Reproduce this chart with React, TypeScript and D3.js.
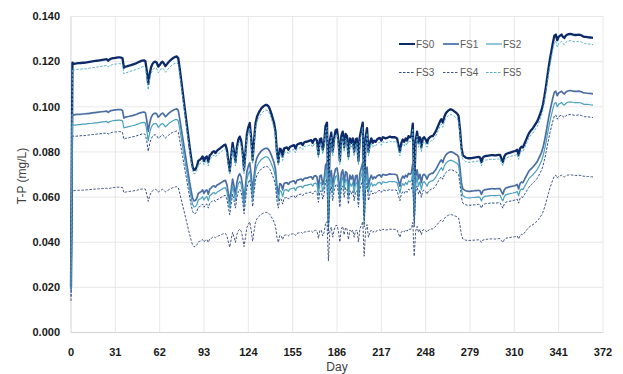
import React from 'react';
import * as d3 from 'd3';

// T-P concentration (µg/L = mg/L x 1000), one value per day, day 0..365
const FS0 = [
  20, 119.5, 119.0, 119.1, 119.2, 119.3, 119.3, 119.4, 119.5, 119.5,
  119.6, 119.7, 119.8, 119.9, 120.0, 120.1, 120.2, 120.3, 120.4, 120.5,
  120.6, 120.7, 120.8, 120.9, 121.0, 121.1, 120.4, 121.0, 121.3, 121.5,
  121.6, 121.7, 121.8, 121.9, 121.9, 121.8, 121.5, 117.3, 117.8, 117.9,
  118.1, 118.3, 118.5, 118.7, 118.9, 119.1, 119.4, 119.7, 120.0, 120.3,
  120.5, 120.6, 120.2, 116.0, 110.0, 114.5, 117.5, 119.0, 119.8, 120.0,
  119.5, 117.8, 118.5, 119.5, 120.0, 119.2, 118.0, 118.8, 119.6, 120.3,
  120.9, 121.4, 121.8, 122.1, 122.3, 121.5, 117.0, 112.0, 107.0, 102.0,
  97.0, 92.0, 87.0, 82.0, 77.5, 73.5, 72.0, 72.2, 73.5, 76.0,
  76.5, 77.0, 78.0, 76.0, 77.5, 78.0, 75.5, 78.5, 79.0, 80.0,
  80.3, 79.5, 80.5, 81.0, 81.5, 82.0, 82.5, 83.0, 83.2, 81.0,
  76.0, 71.5, 78.0, 84.0, 80.0, 75.5, 82.0, 85.5, 86.8, 85.0,
  80.0, 72.0, 80.0, 88.0, 91.0, 92.8, 86.0, 76.5, 85.0, 92.5,
  95.5, 97.0, 98.2, 99.2, 99.9, 100.4, 100.8, 100.8, 100.3, 99.0,
  97.2, 95.0, 92.8, 89.0, 80.0, 75.5, 81.5, 81.0, 78.0, 81.5,
  81.8, 82.0, 81.0, 82.2, 82.5, 82.8, 83.0, 81.5, 83.2, 83.5,
  83.8, 84.0, 83.0, 84.2, 84.5, 84.5, 84.8, 85.0, 85.2, 84.0,
  85.5, 85.8, 85.0, 79.0, 85.5, 86.0, 81.0, 84.0, 91.5, 93.0,
  60.0, 85.0, 88.5, 80.0, 86.0, 89.5, 90.0, 85.0, 76.0, 87.0,
  89.0, 82.0, 88.0, 87.0, 78.0, 86.0, 84.0, 86.0, 80.0, 85.5,
  86.0, 76.0, 87.0, 90.0, 93.0, 64.0, 86.0, 90.5, 80.0, 84.0,
  86.0, 84.0, 85.0, 84.5, 85.5, 86.0, 86.2, 85.0, 86.5, 86.3,
  86.0, 86.2, 86.5, 86.8, 86.5, 86.5, 86.6, 86.4, 86.0, 83.0,
  80.0, 84.0, 85.5, 84.5, 86.0, 85.0, 87.0, 86.5, 87.0, 92.5,
  64.0, 85.0, 89.0, 84.0, 86.5, 82.0, 86.0, 86.5, 85.5, 84.0,
  86.0, 86.5, 87.0, 87.0, 88.0, 89.0, 90.5, 92.0, 93.5, 94.5,
  93.0, 95.5, 97.0, 97.8, 98.4, 98.8, 98.8, 98.5, 98.0, 97.5,
  97.0, 96.0, 90.0, 82.0, 78.5, 78.0, 77.5, 77.3, 77.2, 77.2,
  77.3, 77.4, 77.5, 77.6, 77.7, 77.8, 77.5, 75.5, 77.5, 78.0,
  78.2, 78.3, 78.4, 78.5, 78.6, 78.6, 78.5, 78.5, 78.6, 78.7,
  78.7, 77.0, 75.5, 78.0, 79.0, 79.3, 79.5, 79.7, 79.9, 80.1,
  80.3, 80.5, 81.0, 78.5, 81.5, 82.3, 82.0, 83.5, 85.0, 86.5,
  88.0, 89.0, 89.8, 90.5, 91.5, 92.5, 93.5, 95.0, 96.8, 98.5,
  101.0, 104.5, 108.5, 113.0, 117.5, 121.5, 125.0, 128.5, 131.5, 132.0,
  129.5, 131.0, 131.5, 132.0, 131.0, 130.5, 131.5, 132.0, 132.2, 132.3,
  132.2, 132.0, 131.8, 131.8, 131.9, 132.0, 131.9, 131.6, 131.2, 131.0,
  131.0, 130.9, 130.8, 130.7, 130.6, 130.5,
];

const FS1 = [
  19, 96.8, 96.4, 96.5, 96.6, 96.6, 96.6, 96.7, 96.8, 96.8,
  96.9, 97.0, 97.0, 97.1, 97.2, 97.3, 97.4, 97.4, 97.5, 97.6,
  97.7, 97.8, 97.8, 97.9, 98.0, 98.1, 97.5, 98.0, 98.3, 98.4,
  98.5, 98.6, 98.7, 98.7, 98.7, 98.7, 98.4, 95.0, 95.4, 95.5,
  95.7, 95.8, 96.0, 96.1, 96.3, 96.5, 96.7, 97.0, 97.2, 97.4,
  97.6, 97.7, 97.4, 94.0, 89.1, 92.7, 95.2, 96.4, 97.0, 97.2,
  96.8, 95.4, 96.0, 96.8, 97.2, 96.6, 95.6, 96.2, 96.9, 97.4,
  97.9, 98.3, 98.7, 98.9, 99.1, 98.4, 94.8, 90.7, 86.7, 82.6,
  78.6, 74.5, 70.5, 66.4, 62.8, 59.5, 58.3, 58.5, 59.5, 61.6,
  62.0, 62.4, 63.2, 61.6, 62.8, 63.2, 61.2, 63.6, 64.0, 64.8,
  65.0, 64.4, 65.2, 65.6, 66.0, 66.4, 66.8, 67.2, 67.4, 65.6,
  61.6, 57.9, 63.2, 68.0, 64.8, 61.2, 66.4, 69.3, 70.3, 68.9,
  64.8, 58.3, 64.8, 71.3, 73.7, 75.2, 69.7, 62.0, 68.9, 74.9,
  77.4, 78.6, 79.5, 80.4, 80.9, 81.3, 81.6, 81.6, 81.2, 80.2,
  78.7, 77.0, 75.2, 72.1, 64.8, 61.2, 66.0, 65.6, 63.2, 66.0,
  66.3, 66.4, 65.6, 66.6, 66.8, 67.1, 67.2, 66.0, 67.4, 67.6,
  67.9, 68.0, 67.2, 68.2, 68.4, 68.4, 68.7, 68.9, 69.0, 68.0,
  69.3, 69.5, 68.9, 64.0, 69.3, 69.7, 65.6, 68.0, 74.1, 75.3,
  48.6, 68.9, 71.7, 64.8, 69.7, 72.5, 72.9, 68.9, 61.6, 70.5,
  72.1, 66.4, 71.3, 70.5, 63.2, 69.7, 68.0, 69.7, 64.8, 69.3,
  69.7, 61.6, 70.5, 72.9, 75.3, 51.8, 69.7, 73.3, 64.8, 68.0,
  69.7, 68.0, 68.9, 68.4, 69.3, 69.7, 69.8, 68.9, 70.1, 69.9,
  69.7, 69.8, 70.1, 70.3, 70.1, 70.1, 70.1, 70.0, 69.7, 67.2,
  64.8, 68.0, 69.3, 68.4, 69.7, 68.9, 70.5, 70.1, 70.5, 74.9,
  51.8, 68.9, 72.1, 68.0, 70.1, 66.4, 69.7, 70.1, 69.3, 68.0,
  69.7, 70.1, 70.5, 70.5, 71.3, 72.1, 73.3, 74.5, 75.7, 76.5,
  75.3, 77.4, 78.6, 79.2, 79.7, 80.0, 80.0, 79.8, 79.4, 79.0,
  78.6, 77.8, 72.9, 66.4, 63.6, 63.2, 62.8, 62.6, 62.5, 62.5,
  62.6, 62.7, 62.8, 62.9, 62.9, 63.0, 62.8, 61.2, 62.8, 63.2,
  63.3, 63.4, 63.5, 63.6, 63.7, 63.7, 63.6, 63.6, 63.7, 63.7,
  63.7, 62.4, 61.2, 63.2, 64.0, 64.2, 64.4, 64.6, 64.7, 64.9,
  65.0, 65.2, 65.6, 63.6, 66.0, 66.7, 66.4, 67.6, 68.9, 70.1,
  71.3, 72.1, 72.7, 73.3, 74.1, 74.9, 75.7, 77.0, 78.4, 79.8,
  81.8, 84.6, 87.9, 91.5, 95.2, 98.4, 101.3, 104.1, 106.5, 106.9,
  104.9, 106.1, 106.5, 106.9, 106.1, 105.7, 106.5, 106.9, 107.1, 107.2,
  107.1, 106.9, 106.8, 106.8, 106.8, 106.9, 106.8, 106.6, 106.3, 106.1,
  106.1, 106.0, 105.9, 105.9, 105.8, 105.7,
];

const FS2 = [
  18.5, 92.3, 91.9, 91.9, 92.0, 92.1, 92.1, 92.2, 92.3, 92.3,
  92.3, 92.4, 92.5, 92.6, 92.6, 92.7, 92.8, 92.9, 92.9, 93.0,
  93.1, 93.2, 93.3, 93.3, 93.4, 93.5, 92.9, 93.4, 93.6, 93.8,
  93.9, 94.0, 94.0, 94.1, 94.1, 94.0, 93.8, 90.6, 90.9, 91.0,
  91.2, 91.3, 91.5, 91.6, 91.8, 91.9, 92.2, 92.4, 92.6, 92.9,
  93.0, 93.1, 92.8, 89.6, 84.9, 88.4, 90.7, 91.9, 92.5, 92.6,
  92.3, 90.9, 91.5, 92.3, 92.6, 92.0, 91.1, 91.7, 92.3, 92.9,
  93.3, 93.7, 94.0, 94.3, 94.4, 93.8, 90.3, 86.5, 82.6, 78.7,
  74.9, 71.0, 67.2, 63.3, 59.8, 56.7, 55.6, 55.7, 56.7, 58.7,
  59.1, 59.4, 60.2, 58.7, 59.8, 60.2, 58.3, 60.6, 61.0, 61.8,
  62.0, 61.4, 62.1, 62.5, 62.9, 63.3, 63.7, 64.1, 64.2, 62.5,
  58.7, 55.2, 60.2, 64.8, 61.8, 58.3, 63.3, 66.0, 67.0, 65.6,
  61.8, 55.6, 61.8, 67.9, 70.3, 71.6, 66.4, 59.1, 65.6, 71.4,
  73.7, 74.9, 75.8, 76.6, 77.1, 77.5, 77.8, 77.8, 77.4, 76.4,
  75.0, 73.3, 71.6, 68.7, 61.8, 58.3, 62.9, 62.5, 60.2, 62.9,
  63.2, 63.3, 62.5, 63.5, 63.7, 63.9, 64.1, 62.9, 64.2, 64.5,
  64.7, 64.8, 64.1, 65.0, 65.2, 65.2, 65.5, 65.6, 65.8, 64.8,
  66.0, 66.2, 65.6, 61.0, 66.0, 66.4, 62.5, 64.8, 70.6, 71.8,
  46.3, 65.6, 68.3, 61.8, 66.4, 69.1, 69.5, 65.6, 58.7, 67.2,
  68.7, 63.3, 67.9, 67.2, 60.2, 66.4, 64.8, 66.4, 61.8, 66.0,
  66.4, 58.7, 67.2, 69.5, 71.8, 49.4, 66.4, 69.9, 61.8, 64.8,
  66.4, 64.8, 65.6, 65.2, 66.0, 66.4, 66.5, 65.6, 66.8, 66.6,
  66.4, 66.5, 66.8, 67.0, 66.8, 66.8, 66.9, 66.7, 66.4, 64.1,
  61.8, 64.8, 66.0, 65.2, 66.4, 65.6, 67.2, 66.8, 67.2, 71.4,
  49.4, 65.6, 68.7, 64.8, 66.8, 63.3, 66.4, 66.8, 66.0, 64.8,
  66.4, 66.8, 67.2, 67.2, 67.9, 68.7, 69.9, 71.0, 72.2, 73.0,
  71.8, 73.7, 74.9, 75.5, 76.0, 76.3, 76.3, 76.0, 75.7, 75.3,
  74.9, 74.1, 69.5, 63.3, 60.6, 60.2, 59.8, 59.7, 59.6, 59.6,
  59.7, 59.8, 59.8, 59.9, 60.0, 60.1, 59.8, 58.3, 59.8, 60.2,
  60.4, 60.4, 60.5, 60.6, 60.7, 60.7, 60.6, 60.6, 60.7, 60.8,
  60.8, 59.4, 58.3, 60.2, 61.0, 61.2, 61.4, 61.5, 61.7, 61.8,
  62.0, 62.1, 62.5, 60.6, 62.9, 63.5, 63.3, 64.5, 65.6, 66.8,
  67.9, 68.7, 69.3, 69.9, 70.6, 71.4, 72.2, 73.3, 74.7, 76.0,
  78.0, 80.7, 83.8, 87.2, 90.7, 93.8, 96.5, 99.2, 101.5, 101.9,
  100.0, 101.1, 101.5, 101.9, 101.1, 100.7, 101.5, 101.9, 102.1, 102.1,
  102.1, 101.9, 101.8, 101.8, 101.8, 101.9, 101.8, 101.6, 101.3, 101.1,
  101.1, 101.1, 101.0, 100.9, 100.8, 100.7,
];

const FS3 = [
  16, 87.2, 86.9, 86.9, 87.0, 87.1, 87.1, 87.2, 87.2, 87.2,
  87.3, 87.4, 87.5, 87.5, 87.6, 87.7, 87.7, 87.8, 87.9, 88.0,
  88.0, 88.1, 88.2, 88.3, 88.3, 88.4, 87.9, 88.3, 88.5, 88.7,
  88.8, 88.8, 88.9, 89.0, 89.0, 88.9, 88.7, 85.6, 86.0, 86.1,
  86.2, 86.4, 86.5, 86.7, 86.8, 86.9, 87.2, 87.4, 87.6, 87.8,
  88.0, 88.0, 87.7, 84.7, 80.3, 83.6, 85.8, 86.9, 87.5, 87.6,
  87.2, 86.0, 86.5, 87.2, 87.6, 87.0, 86.1, 86.7, 87.3, 87.8,
  88.3, 88.6, 88.9, 89.1, 89.3, 88.7, 85.4, 81.8, 78.1, 74.5,
  70.8, 67.2, 63.5, 59.9, 56.6, 53.7, 52.6, 52.7, 53.7, 55.5,
  55.8, 56.2, 56.9, 55.5, 56.6, 56.9, 55.1, 57.3, 57.7, 58.4,
  58.6, 58.0, 58.8, 59.1, 59.5, 59.9, 60.2, 60.6, 60.7, 59.1,
  55.5, 52.2, 56.9, 61.3, 58.4, 55.1, 59.9, 62.4, 63.4, 62.1,
  58.4, 52.6, 58.4, 64.2, 66.4, 67.7, 62.8, 55.8, 62.1, 67.5,
  69.7, 70.8, 71.7, 72.4, 72.9, 73.3, 73.6, 73.6, 73.2, 72.3,
  71.0, 69.4, 67.7, 65.0, 58.4, 55.1, 59.5, 59.1, 56.9, 59.5,
  59.7, 59.9, 59.1, 60.0, 60.2, 60.4, 60.6, 59.5, 60.7, 61.0,
  61.2, 61.3, 60.6, 61.5, 61.7, 61.7, 61.9, 62.1, 62.2, 61.3,
  62.4, 62.6, 62.1, 57.7, 62.4, 62.8, 59.1, 61.3, 66.8, 67.9,
  43.8, 62.1, 64.6, 58.4, 62.8, 65.3, 65.7, 62.1, 55.5, 63.5,
  65.0, 59.9, 64.2, 63.5, 56.9, 62.8, 61.3, 62.8, 58.4, 62.4,
  62.8, 55.5, 63.5, 65.7, 67.9, 46.7, 62.8, 66.1, 58.4, 61.3,
  62.8, 61.3, 62.1, 61.7, 62.4, 62.8, 62.9, 62.1, 63.1, 63.0,
  62.8, 62.9, 63.1, 63.4, 63.1, 63.1, 63.2, 63.1, 62.8, 60.6,
  58.4, 61.3, 62.4, 61.7, 62.8, 62.1, 63.5, 63.1, 63.5, 67.5,
  46.7, 62.1, 65.0, 61.3, 63.1, 59.9, 62.8, 63.1, 62.4, 61.3,
  62.8, 63.1, 63.5, 63.5, 64.2, 65.0, 66.1, 67.2, 68.3, 69.0,
  67.9, 69.7, 70.8, 71.4, 71.8, 72.1, 72.1, 71.9, 71.5, 71.2,
  70.8, 70.1, 65.7, 59.9, 57.3, 56.9, 56.6, 56.4, 56.4, 56.4,
  56.4, 56.5, 56.6, 56.6, 56.7, 56.8, 56.6, 55.1, 56.6, 56.9,
  57.1, 57.2, 57.2, 57.3, 57.4, 57.4, 57.3, 57.3, 57.4, 57.5,
  57.5, 56.2, 55.1, 56.9, 57.7, 57.9, 58.0, 58.2, 58.3, 58.5,
  58.6, 58.8, 59.1, 57.3, 59.5, 60.1, 59.9, 61.0, 62.1, 63.1,
  64.2, 65.0, 65.6, 66.1, 66.8, 67.5, 68.3, 69.4, 70.7, 71.9,
  73.7, 76.3, 79.2, 82.5, 85.8, 88.7, 91.3, 93.8, 96.0, 96.4,
  94.5, 95.6, 96.0, 96.4, 95.6, 95.3, 96.0, 96.4, 96.5, 96.6,
  96.5, 96.4, 96.2, 96.2, 96.3, 96.4, 96.3, 96.1, 95.8, 95.6,
  95.6, 95.6, 95.5, 95.4, 95.3, 95.3,
];

const FS4 = [
  14, 63.1, 62.8, 62.9, 62.9, 63.0, 63.0, 63.0, 63.1, 63.1,
  63.1, 63.2, 63.3, 63.3, 63.4, 63.4, 63.5, 63.5, 63.6, 63.6,
  63.7, 63.7, 63.8, 63.8, 63.9, 63.9, 63.6, 63.9, 64.0, 64.2,
  64.2, 64.3, 64.3, 64.4, 64.4, 64.3, 64.2, 61.9, 62.2, 62.3,
  62.4, 62.5, 62.6, 62.7, 62.8, 62.9, 63.0, 63.2, 63.4, 63.5,
  63.6, 63.7, 63.5, 61.2, 58.1, 60.5, 62.0, 62.8, 63.3, 63.4,
  63.1, 62.2, 62.6, 63.1, 63.4, 62.9, 62.3, 62.7, 63.1, 63.5,
  63.8, 64.1, 64.3, 64.5, 64.6, 64.2, 61.8, 59.1, 56.5, 53.9,
  51.2, 48.6, 45.9, 43.3, 40.9, 38.8, 38.0, 38.1, 38.8, 40.1,
  40.4, 40.7, 41.2, 40.1, 40.9, 41.2, 39.9, 41.4, 41.7, 42.2,
  42.4, 42.0, 42.5, 42.8, 43.0, 43.3, 43.6, 43.8, 43.9, 42.8,
  40.1, 37.8, 41.2, 44.4, 42.2, 39.9, 43.3, 45.1, 45.8, 44.9,
  42.2, 38.0, 42.2, 46.5, 48.0, 49.0, 45.4, 40.4, 44.9, 48.8,
  50.4, 51.2, 51.8, 52.4, 52.7, 53.0, 53.2, 53.2, 53.0, 52.3,
  51.3, 50.2, 49.0, 47.0, 42.2, 39.9, 43.0, 42.8, 41.2, 43.0,
  43.2, 43.3, 42.8, 43.4, 43.6, 43.7, 43.8, 43.0, 43.9, 44.1,
  44.2, 44.4, 43.8, 44.5, 44.6, 44.6, 44.8, 44.9, 45.0, 44.4,
  45.1, 45.3, 44.9, 41.7, 45.1, 45.4, 42.8, 44.4, 48.3, 49.1,
  31.7, 44.9, 46.7, 42.2, 45.4, 47.3, 47.5, 44.9, 40.1, 45.9,
  47.0, 43.3, 46.5, 45.9, 41.2, 45.4, 44.4, 45.4, 42.2, 45.1,
  45.4, 40.1, 45.9, 47.5, 49.1, 33.8, 45.4, 47.8, 42.2, 44.4,
  45.4, 44.4, 44.9, 44.6, 45.1, 45.4, 45.5, 44.9, 45.7, 45.6,
  45.4, 45.5, 45.7, 45.8, 45.7, 45.7, 45.7, 45.6, 45.4, 43.8,
  42.2, 44.4, 45.1, 44.6, 45.4, 44.9, 45.9, 45.7, 45.9, 48.8,
  33.8, 44.9, 47.0, 44.4, 45.7, 43.3, 45.4, 45.7, 45.1, 44.4,
  45.4, 45.7, 45.9, 45.9, 46.5, 47.0, 47.8, 48.6, 49.4, 49.9,
  49.1, 50.4, 51.2, 51.6, 52.0, 52.2, 52.2, 52.0, 51.7, 51.5,
  51.2, 50.7, 47.5, 43.3, 41.4, 41.2, 40.9, 40.8, 40.8, 40.8,
  40.8, 40.9, 40.9, 41.0, 41.0, 41.1, 40.9, 39.9, 40.9, 41.2,
  41.3, 41.3, 41.4, 41.4, 41.5, 41.5, 41.4, 41.4, 41.5, 41.6,
  41.6, 40.7, 39.9, 41.2, 41.7, 41.9, 42.0, 42.1, 42.2, 42.3,
  42.4, 42.5, 42.8, 41.4, 43.0, 43.5, 43.3, 44.1, 44.9, 45.7,
  46.5, 47.0, 47.4, 47.8, 48.3, 48.8, 49.4, 50.2, 51.1, 52.0,
  53.3, 55.2, 57.3, 59.7, 62.0, 64.2, 66.0, 67.8, 69.4, 69.7,
  68.4, 69.2, 69.4, 69.7, 69.2, 68.9, 69.4, 69.7, 69.8, 69.9,
  69.8, 69.7, 69.6, 69.6, 69.6, 69.7, 69.6, 69.5, 69.3, 69.2,
  69.2, 69.1, 69.1, 69.0, 69.0, 68.9,
];

const FS5 = [
  19.5, 116.8, 116.3, 116.4, 116.5, 116.6, 116.6, 116.7, 116.8, 116.8,
  116.8, 116.9, 117.0, 117.1, 117.2, 117.3, 117.4, 117.5, 117.6, 117.7,
  117.8, 117.9, 118.0, 118.1, 118.2, 118.3, 117.6, 118.2, 118.5, 118.7,
  118.8, 118.9, 119.0, 119.1, 119.1, 119.0, 118.7, 114.6, 115.1, 115.2,
  115.4, 115.6, 115.8, 116.0, 116.2, 116.4, 116.7, 116.9, 117.2, 117.5,
  117.7, 117.8, 117.4, 113.3, 107.5, 111.9, 114.8, 116.3, 117.0, 117.2,
  116.8, 115.1, 115.8, 116.8, 117.2, 116.5, 115.3, 116.1, 116.8, 117.5,
  118.1, 118.6, 119.0, 119.3, 119.5, 118.7, 114.3, 109.4, 104.5, 99.7,
  94.8, 89.9, 85.0, 80.1, 75.7, 71.8, 70.3, 70.5, 71.8, 74.3,
  74.7, 75.2, 76.2, 74.3, 75.7, 76.2, 73.8, 76.7, 77.2, 78.2,
  78.5, 77.7, 78.6, 79.1, 79.6, 80.1, 80.6, 81.1, 81.3, 79.1,
  74.3, 69.9, 76.2, 82.1, 78.2, 73.8, 80.1, 83.5, 84.8, 83.0,
  78.2, 70.3, 78.2, 86.0, 88.9, 90.7, 84.0, 74.7, 83.0, 90.4,
  93.3, 94.8, 95.9, 96.9, 97.6, 98.1, 98.5, 98.5, 98.0, 96.7,
  95.0, 92.8, 90.7, 87.0, 78.2, 73.8, 79.6, 79.1, 76.2, 79.6,
  79.9, 80.1, 79.1, 80.3, 80.6, 80.9, 81.1, 79.6, 81.3, 81.6,
  81.9, 82.1, 81.1, 82.3, 82.6, 82.6, 82.8, 83.0, 83.2, 82.1,
  83.5, 83.8, 83.0, 77.2, 83.5, 84.0, 79.1, 82.1, 89.4, 90.9,
  58.6, 83.0, 86.5, 78.2, 84.0, 87.4, 87.9, 83.0, 74.3, 85.0,
  87.0, 80.1, 86.0, 85.0, 76.2, 84.0, 82.1, 84.0, 78.2, 83.5,
  84.0, 74.3, 85.0, 87.9, 90.9, 62.5, 84.0, 88.4, 78.2, 82.1,
  84.0, 82.1, 83.0, 82.6, 83.5, 84.0, 84.2, 83.0, 84.5, 84.3,
  84.0, 84.2, 84.5, 84.8, 84.5, 84.5, 84.6, 84.4, 84.0, 81.1,
  78.2, 82.1, 83.5, 82.6, 84.0, 83.0, 85.0, 84.5, 85.0, 90.4,
  62.5, 83.0, 87.0, 82.1, 84.5, 80.1, 84.0, 84.5, 83.5, 82.1,
  84.0, 84.5, 85.0, 85.0, 86.0, 87.0, 88.4, 89.9, 91.3, 92.3,
  90.9, 93.3, 94.8, 95.6, 96.1, 96.5, 96.5, 96.2, 95.7, 95.3,
  94.8, 93.8, 87.9, 80.1, 76.7, 76.2, 75.7, 75.5, 75.4, 75.4,
  75.5, 75.6, 75.7, 75.8, 75.9, 76.0, 75.7, 73.8, 75.7, 76.2,
  76.4, 76.5, 76.6, 76.7, 76.8, 76.8, 76.7, 76.7, 76.8, 76.9,
  76.9, 75.2, 73.8, 76.2, 77.2, 77.5, 77.7, 77.9, 78.1, 78.3,
  78.5, 78.6, 79.1, 76.7, 79.6, 80.4, 80.1, 81.6, 83.0, 84.5,
  86.0, 87.0, 87.7, 88.4, 89.4, 90.4, 91.3, 92.8, 94.6, 96.2,
  98.7, 102.1, 106.0, 110.4, 114.8, 118.7, 122.1, 125.5, 128.5, 129.0,
  126.5, 128.0, 128.5, 129.0, 128.0, 127.5, 128.5, 129.0, 129.2, 129.3,
  129.2, 129.0, 128.8, 128.8, 128.9, 129.0, 128.9, 128.6, 128.2, 128.0,
  128.0, 127.9, 127.8, 127.7, 127.6, 127.5,
];

const SERIES_NAMES = ['FS0', 'FS1', 'FS2', 'FS3', 'FS4', 'FS5'];
const X_TICKS = [0, 31, 62, 93, 124, 155, 186, 217, 248, 279, 310, 341, 372];
const Y_TICKS = [0, 20, 40, 60, 80, 100, 120, 140];

const STYLES: Record<string, { color: string; width: number; dash?: string }> = {
  FS0: { color: '#0c2a68', width: 2.3 },
  FS1: { color: '#4a6da3', width: 1.7 },
  FS2: { color: '#48a0bf', width: 1.2 },
  FS3: { color: '#2d4c8c', width: 1, dash: '2.5 1.5' },
  FS4: { color: '#43557f', width: 1, dash: '2.5 1.5' },
  FS5: { color: '#55aecb', width: 1, dash: '2.5 1.5' },
};

const W = 623;
const H = 374;
const M = { left: 71, right: 603, top: 16.5, bottom: 332.5 };

export default function App() {
  const x = d3.scaleLinear().domain([0, 372]).range([M.left, M.right]);
  const y = d3.scaleLinear().domain([0, 140]).range([M.bottom, M.top]);
  const data: Record<string, number[]> = { FS0, FS1, FS2, FS3, FS4, FS5 };
  const line = d3
    .line<number>()
    .x((_, i) => x(i))
    .y((d) => y(d));

  const legendPos = [
    { name: 'FS0', lx: 399, ly: 44 },
    { name: 'FS1', lx: 443, ly: 44 },
    { name: 'FS2', lx: 486, ly: 44 },
    { name: 'FS3', lx: 399, ly: 72.5 },
    { name: 'FS4', lx: 443, ly: 72.5 },
    { name: 'FS5', lx: 486, ly: 72.5 },
  ];

  const font = "'Liberation Sans', Arial, sans-serif";

  return (
    <svg
      width={W}
      height={H}
      style={{ position: 'absolute', left: 0, top: 0, background: '#fff' }}
      fontFamily={font}
    >
      <rect x={0} y={0} width={W} height={H} fill="#fff" />
      {/* gridlines */}
      {Y_TICKS.map((t) => (
        <line
          key={'gy' + t}
          x1={M.left}
          x2={M.right}
          y1={y(t)}
          y2={y(t)}
          stroke={t === 0 ? '#c8c8c8' : '#e2e2e2'}
          strokeWidth={0.8}
        />
      ))}
      {X_TICKS.map((t) => (
        <line
          key={'gx' + t}
          x1={x(t)}
          x2={x(t)}
          y1={M.top}
          y2={M.bottom}
          stroke={t === 0 ? '#c8c8c8' : '#e2e2e2'}
          strokeWidth={0.8}
        />
      ))}
      {/* series */}
      {SERIES_NAMES.map((n) => (
        <path
          key={n}
          d={line(data[n]) || ''}
          fill="none"
          stroke={STYLES[n].color}
          strokeWidth={STYLES[n].width}
          strokeDasharray={STYLES[n].dash}
          strokeLinejoin="round"
        />
      ))}
      {/* y tick labels */}
      {Y_TICKS.map((t) => (
        <text
          key={'ty' + t}
          x={60}
          y={y(t)}
          dy="0.35em"
          textAnchor="end"
          fontSize={11}
          fontWeight="bold"
          fill="#1a1a1a"
        >
          {(t / 1000).toFixed(3)}
        </text>
      ))}
      {/* x tick labels */}
      {X_TICKS.map((t) => (
        <text
          key={'tx' + t}
          x={x(t)}
          y={355.5}
          textAnchor="middle"
          fontSize={11}
          fontWeight="bold"
          fill="#1a1a1a"
        >
          {t}
        </text>
      ))}
      {/* axis titles */}
      <text x={337} y={371} textAnchor="middle" fontSize={12} fill="#404040">
        Day
      </text>
      <text
        transform={`translate(26,176) rotate(-90)`}
        textAnchor="middle"
        fontSize={12}
        fill="#404040"
      >
        T-P (mg/L)
      </text>
      {/* legend */}
      {legendPos.map((p) => (
        <g key={'lg' + p.name}>
          <line
            x1={p.lx}
            x2={p.lx + 16}
            y1={p.ly}
            y2={p.ly}
            stroke={STYLES[p.name].color}
            strokeWidth={Math.min(STYLES[p.name].width, 2)}
            strokeDasharray={STYLES[p.name].dash}
          />
          <text x={p.lx + 17} y={p.ly} dy="0.35em" fontSize={10} fill="#595959">
            {p.name}
          </text>
        </g>
      ))}
    </svg>
  );
}
